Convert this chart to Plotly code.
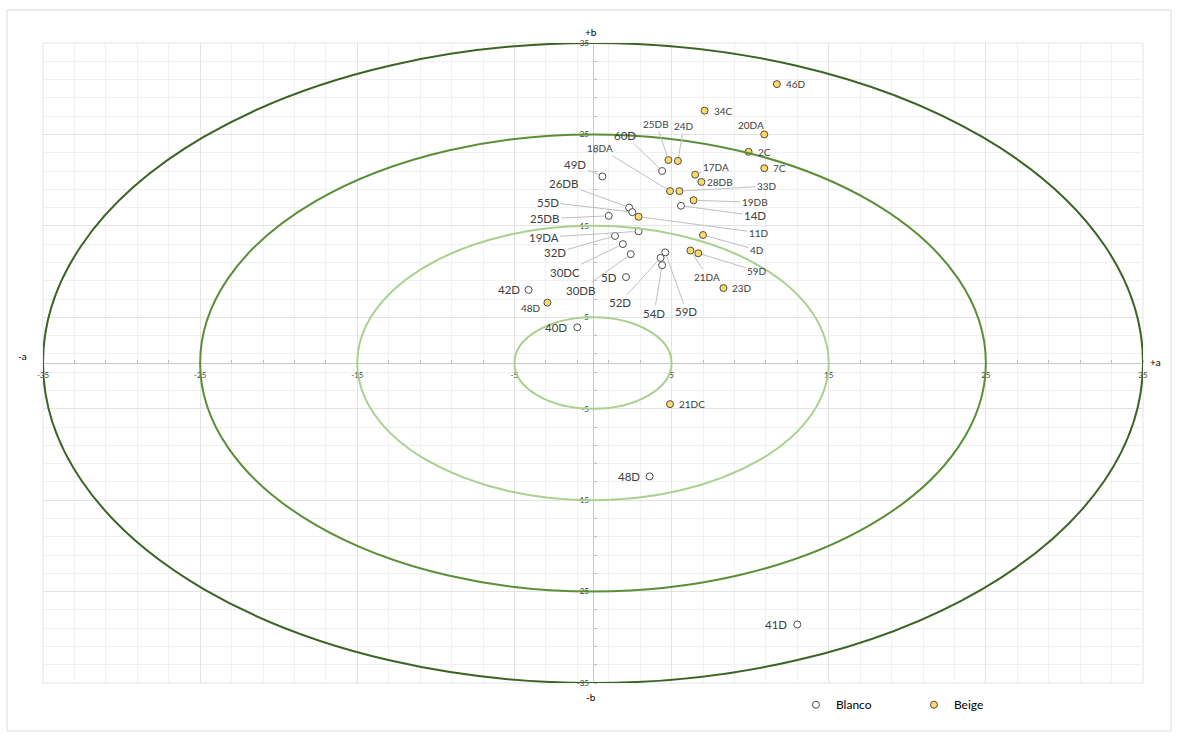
import plotly.graph_objects as go

# CIELAB chroma coordinates (a*, b*) for each sample
blanco_names = ["60D", "49D", "14D", "26DB", "55D", "25DB", "19DA", "32D", "30DC",
                "30DB", "59D", "52D", "54D", "5D", "42D", "40D", "48D", "41D"]
blanco_a = [4.4, 0.6, 5.6, 2.3, 2.5, 1.0, 2.9, 1.4, 1.9,
            2.4, 4.6, 4.3, 4.4, 2.1, -4.1, -1.0, 3.6, 13.0]
blanco_b = [21.0, 20.4, 17.2, 17.0, 16.5, 16.1, 14.4, 13.9, 13.0,
            11.9, 12.1, 11.5, 10.7, 9.4, 8.0, 3.9, -12.4, -28.6]

beige_names = ["46D", "34C", "20DA", "2C", "7C", "25DB", "24D", "17DA", "28DB", "18DA",
               "33D", "19DB", "11D", "4D", "21DA", "59D", "23D", "48D", "21DC"]
beige_a = [11.7, 7.1, 10.9, 9.9, 10.9, 4.8, 5.4, 6.5, 6.9, 4.9,
           5.5, 6.4, 2.9, 7.0, 6.2, 6.7, 8.3, -2.9, 4.9]
beige_b = [30.5, 27.6, 25.0, 23.1, 21.3, 22.2, 22.1, 20.6, 19.8, 18.8,
           18.8, 17.8, 16.0, 14.0, 12.3, 12.0, 8.2, 6.6, -4.5]

ring_radii = [35, 25, 15, 5]
axis_ticks = [-35, -25, -15, -5, 5, 15, 25, 35]
axis_range = [-35, 35]

# label placement: ("lead", dx, dy) draws a leader line, ("side", "left"/"right", shift)
# puts the text beside the marker, ("off", dx, dy) shifts the text without a line
blanco_labels = {
    "60D": ("lead", -37, -36), "49D": ("lead", -27, -12), "14D": ("lead", 74, 10),
    "26DB": ("lead", -65, -24), "55D": ("lead", -84, -10), "25DB": ("lead", -64, 3),
    "19DA": ("lead", -95, 6), "32D": ("lead", -60, 17), "30DC": ("lead", -58, 28),
    "30DB": ("lead", -50, 36), "59D": ("lead", 21, 59), "52D": ("lead", -41, 45),
    "54D": ("lead", -8, 48), "5D": ("side", "right", -7), "42D": ("side", "right", -7),
    "40D": ("side", "right", -8), "48D": ("side", "right", -8), "41D": ("side", "right", -8),
}
beige_labels = {
    "46D": ("side", "left", 7), "34C": ("side", "left", 7), "20DA": ("off", -13, -9),
    "2C": ("side", "left", 7), "7C": ("side", "left", 7), "25DB": ("lead", -12, -36),
    "24D": ("lead", 6, -35), "17DA": ("lead", 21, -8), "28DB": ("side", "left", 4),
    "18DA": ("lead", -70, -43), "33D": ("lead", 88, -5), "19DB": ("lead", 61, 2),
    "11D": ("lead", 120, 16), "4D": ("lead", 54, 15), "21DA": ("lead", 17, 26),
    "59D": ("lead", 59, 18), "23D": ("side", "left", 7), "48D": ("lead", -16, 5),
    "21DC": ("side", "left", 7),
}

FONT = "Lato, 'Open Sans', sans-serif"
LABEL_COLOR = "#404040"
ring_colors = ["#3b6424", "#5a8f38", "#a9d18e", "#a9d18e"]

fig = go.Figure()

# concentric chroma rings
for r, col in zip(ring_radii, ring_colors):
    fig.add_shape(type="circle", xref="x", yref="y", x0=-r, x1=r, y0=-r, y1=r,
                  line=dict(color=col, width=2), layer="above")

fig.add_trace(go.Scatter(
    x=blanco_a, y=blanco_b, mode="markers", name="Blanco",
    marker=dict(size=7, color="#ffffff", line=dict(color="#4d4d4d", width=1)),
    hovertext=blanco_names,
))
fig.add_trace(go.Scatter(
    x=beige_a, y=beige_b, mode="markers", name="Beige",
    marker=dict(size=7, color="#ffd966", line=dict(color="#4d4d4d", width=1)),
    hovertext=beige_names,
))


def add_labels(names, xs, ys, placement, size):
    for n, x, y in zip(names, xs, ys):
        kind, p1, p2 = placement[n]
        font = dict(family=FONT, size=size, color=LABEL_COLOR)
        if kind == "lead":
            fig.add_annotation(x=x, y=y, text=n, showarrow=True, ax=p1, ay=p2,
                               arrowhead=0, arrowwidth=1, arrowcolor="#bfbfbf",
                               standoff=4, font=font)
        elif kind == "side":
            fig.add_annotation(x=x, y=y, text=n, showarrow=False, xanchor=p1,
                               xshift=p2, font=font)
        else:
            fig.add_annotation(x=x, y=y, text=n, showarrow=False, xshift=p1,
                               yshift=-p2, font=font)


add_labels(blanco_names, blanco_a, blanco_b, blanco_labels, 11.5)
add_labels(beige_names, beige_a, beige_b, beige_labels, 10)

# axis end labels
axis_font = dict(family=FONT, size=10, color="#000000")
for txt, px, py, dx, dy in [("+b", 0.5, 1, -2, 11), ("-b", 0.5, 0, -2, -14),
                            ("-a", 0, 0.5, -21, 7), ("+a", 1, 0.5, 12, 1)]:
    fig.add_annotation(xref="paper", yref="paper", x=px, y=py, xanchor="center",
                       yanchor="middle", xshift=dx, yshift=dy, text=txt,
                       showarrow=False, font=axis_font)

# chart frame and plot-area border
fig.add_shape(type="rect", xref="paper", yref="paper", x0=-0.0327, x1=1.0255,
              y0=-0.075, y1=1.0516, line=dict(color="#dcdcdc", width=1), layer="below")
fig.add_shape(type="rect", xref="paper", yref="paper", x0=0, x1=1, y0=0, y1=1,
              line=dict(color="#e3e3e3", width=1), layer="below")

axis_common = dict(
    range=axis_range, tickmode="array", tickvals=axis_ticks,
    ticktext=[str(t) for t in axis_ticks],
    showgrid=True, gridcolor="#e3e3e3", gridwidth=1,
    minor=dict(tick0=-35, dtick=2, showgrid=True, gridcolor="#f0f0f0",
               ticks="inside", ticklen=3, tickcolor="#bfbfbf"),
    zeroline=True, zerolinecolor="#c8c8c8", zerolinewidth=1,
    showline=False, ticks="", anchor="free", position=0.5,
    tickfont=dict(family=FONT, size=8, color="#404040"),
    fixedrange=True,
)
fig.update_xaxes(**axis_common)
fig.update_xaxes(ticklabelstandoff=6)
fig.update_yaxes(**axis_common)
fig.update_yaxes(ticklabelstandoff=4)

fig.update_layout(
    width=1178, height=740,
    margin=dict(l=43, r=35, t=43, b=57),
    paper_bgcolor="#ffffff", plot_bgcolor="#ffffff",
    showlegend=True,
    legend=dict(orientation="h", x=0.6845, y=-0.034, xanchor="left", yanchor="middle",
                font=dict(family=FONT, size=12, color="#000000"),
                entrywidth=73, itemwidth=30, bgcolor="rgba(0,0,0,0)"),
)

fig.write_html("out.html")
